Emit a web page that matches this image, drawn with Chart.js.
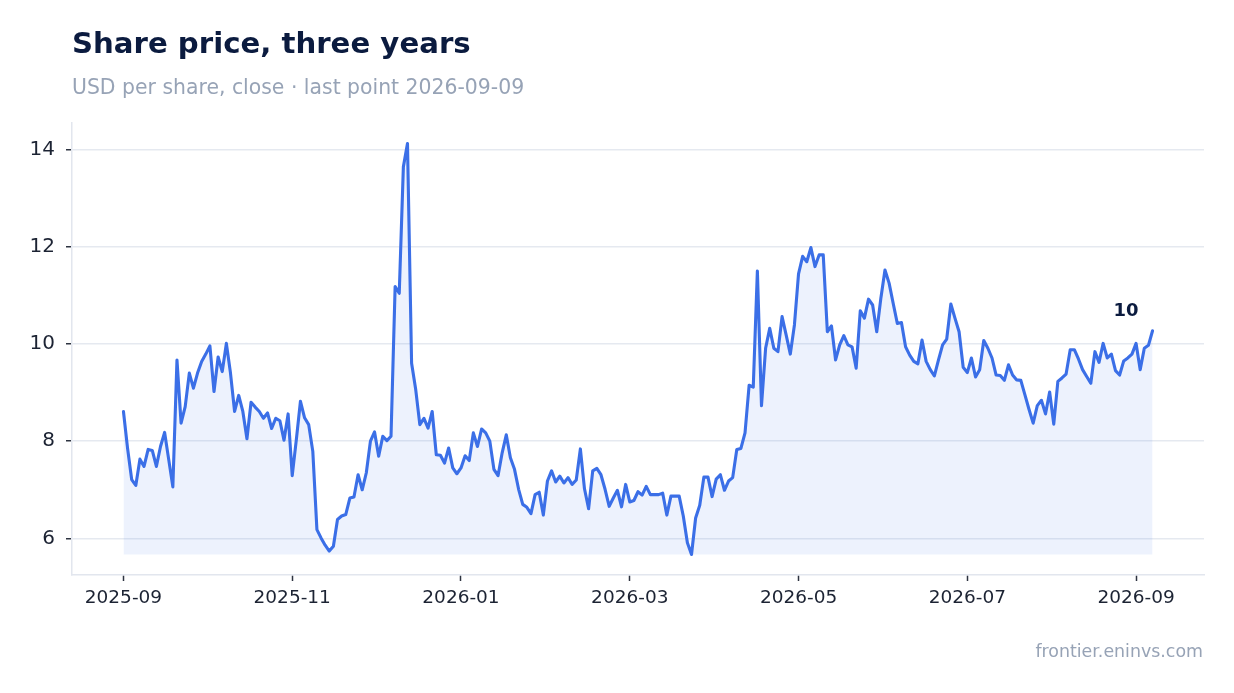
<!DOCTYPE html>
<html>
<head>
<meta charset="utf-8">
<script src="https://cdn.jsdelivr.net/npm/chart.js@4.4.1/dist/chart.umd.min.js"></script>
<style>
  html, body { margin: 0; padding: 0; background: #ffffff; }
  #wrap { position: relative; width: 1234px; height: 693px; overflow: hidden; font-family: "DejaVu Sans", sans-serif; }
  #chart { position: absolute; left: 0; top: 0; }
  .title { position: absolute; left: 72px; top: 29px; font-size: 29.2px; line-height: 1; font-weight: bold; color: #0b1b3f; white-space: nowrap; }
  .subtitle { position: absolute; left: 72px; top: 77px; font-size: 20.4px; line-height: 1; color: #97a3b6; white-space: nowrap; }
  .footer { position: absolute; right: 31px; top: 643px; font-size: 17.4px; line-height: 1; color: #97a3b6; white-space: nowrap; }
</style>
</head>
<body>
<div id="wrap">
  <canvas id="chart" width="1234" height="693"></canvas>
  <div class="title">Share price, three years</div>
  <div class="subtitle">USD per share, close · last point 2026-09-09</div>
  <div class="footer">frontier.eninvs.com</div>
</div>
<script>
// ---- data (daily closes) ----
const tickLabels = ['2025-09', '2025-11', '2026-01', '2026-03', '2026-05', '2026-07', '2026-09'];
const sessionsPerTick = 41; // trading sessions between two labelled months

const closeSep25 = [8.61, 7.85, 7.21, 7.09, 7.63, 7.48, 7.83, 7.81, 7.48, 7.89, 8.18, 7.62, 7.06, 9.67, 8.37, 8.71, 9.40, 9.09, 9.40, 9.64, 9.79, 9.96, 9.02, 9.73, 9.43, 10.01, 9.40, 8.61, 8.94, 8.61, 8.05, 8.80, 8.70, 8.61, 8.47, 8.58, 8.26, 8.47, 8.42, 8.02, 8.56];
const closeNov25 = [7.29, 8.03, 8.82, 8.48, 8.34, 7.79, 6.18, 6.01, 5.86, 5.74, 5.84, 6.39, 6.46, 6.49, 6.83, 6.85, 7.31, 7.00, 7.35, 8.00, 8.19, 7.69, 8.10, 8.01, 8.10, 11.18, 11.04, 13.64, 14.12, 9.60, 9.06, 8.34, 8.47, 8.27, 8.61, 7.72, 7.71, 7.55, 7.86, 7.45, 7.33];
const closeJan26 = [7.45, 7.70, 7.60, 8.17, 7.89, 8.25, 8.17, 8.00, 7.42, 7.29, 7.76, 8.13, 7.66, 7.42, 7.01, 6.70, 6.64, 6.51, 6.90, 6.95, 6.48, 7.18, 7.39, 7.16, 7.28, 7.14, 7.25, 7.11, 7.20, 7.84, 7.02, 6.61, 7.39, 7.44, 7.31, 7.01, 6.66, 6.83, 6.99, 6.65, 7.11];
const closeMar26 = [6.75, 6.78, 6.96, 6.89, 7.07, 6.90, 6.90, 6.90, 6.93, 6.48, 6.87, 6.87, 6.87, 6.46, 5.91, 5.67, 6.42, 6.68, 7.26, 7.26, 6.86, 7.22, 7.31, 6.99, 7.18, 7.25, 7.83, 7.85, 8.17, 9.15, 9.11, 11.50, 8.73, 9.91, 10.32, 9.91, 9.84, 10.56, 10.18, 9.79, 10.39];
const closeMay26 = [11.44, 11.80, 11.69, 11.98, 11.59, 11.83, 11.83, 10.25, 10.37, 9.67, 9.98, 10.17, 9.98, 9.94, 9.50, 10.68, 10.53, 10.92, 10.80, 10.25, 10.94, 11.52, 11.25, 10.83, 10.42, 10.44, 9.94, 9.77, 9.64, 9.59, 10.08, 9.64, 9.47, 9.34, 9.67, 9.98, 10.10, 10.82, 10.53, 10.25, 9.52];
const closeJul26 = [9.41, 9.71, 9.32, 9.47, 10.07, 9.91, 9.71, 9.36, 9.35, 9.25, 9.57, 9.36, 9.26, 9.25, 8.95, 8.65, 8.37, 8.73, 8.84, 8.56, 9.01, 8.35, 9.23, 9.30, 9.38, 9.88, 9.88, 9.69, 9.47, 9.33, 9.19, 9.84, 9.62, 10.01, 9.71, 9.79, 9.45, 9.36, 9.65, 9.71, 9.79];
const closeSep26 = [10.01, 9.47, 9.91, 9.97, 10.27];

const closes = [].concat(closeSep25, closeNov25, closeJan26, closeMar26, closeMay26, closeJul26, closeSep26);

// ---- derived ----
const points = closes.map((v, i) => ({ x: i, y: v }));
const lo = Math.min(...closes), hi = Math.max(...closes);
const yPad = (hi - lo) * 0.05;
const xPad = (closes.length - 1) * 0.05;

const LINE = '#3b6fe7';
const FONT = 'DejaVu Sans';

const lastLabel = {
  id: 'lastLabel',
  afterDatasetsDraw(chart) {
    const meta = chart.getDatasetMeta(0);
    const el = meta.data[meta.data.length - 1];
    const ctx = chart.ctx;
    ctx.save();
    ctx.font = 'bold 18px "' + FONT + '"';
    ctx.fillStyle = '#0b1b3f';
    ctx.textAlign = 'right';
    ctx.textBaseline = 'alphabetic';
    ctx.fillText(Math.round(closes[closes.length - 1]).toString(), el.x - 14, el.y - 15);
    ctx.restore();
  }
};

new Chart(document.getElementById('chart'), {
  type: 'line',
  data: {
    datasets: [{
      data: points,
      borderColor: LINE,
      borderWidth: 3.1,
      borderJoinStyle: 'round',
      borderCapStyle: 'round',
      pointRadius: 0,
      pointHoverRadius: 0,
      tension: 0,
      fill: { value: lo },
      backgroundColor: 'rgba(59,111,231,0.09)'
    }]
  },
  options: {
    responsive: false,
    animation: false,
    devicePixelRatio: 1,
    layout: { padding: { left: 0, right: 30, top: 123, bottom: 0 } },
    plugins: { legend: { display: false }, tooltip: { enabled: false }, title: { display: false } },
    scales: {
      x: {
        type: 'linear',
        min: -xPad,
        max: closes.length - 1 + xPad,
        afterFit(s) { s.height = 118; },
        afterBuildTicks(s) { s.ticks = tickLabels.map((_, k) => ({ value: k * sessionsPerTick })); },
        grid: { drawOnChartArea: false, drawTicks: true, tickLength: 6, tickColor: '#2d3340', tickWidth: 1.5 },
        border: { display: true, color: '#e2e6ee', width: 1.5 },
        ticks: {
          autoSkip: false,
          maxRotation: 0,
          padding: 6,
          color: '#1c2333',
          font: { family: FONT, size: 18.5 },
          callback: (v) => tickLabels[Math.round(v / sessionsPerTick)]
        }
      },
      y: {
        min: lo - yPad,
        max: hi + yPad,
        afterFit(s) { s.width = 72; },
        grid: { color: '#e5e9f0', lineWidth: 1.5, drawTicks: true, tickLength: 6, tickColor: '#2d3340', tickWidth: 1.5 },
        border: { display: true, color: '#e2e6ee', width: 1.5 },
        ticks: {
          stepSize: 2,
          includeBounds: false,
          padding: 11,
          color: '#1c2333',
          font: { family: FONT, size: 20 },
          callback: (v) => v.toString()
        }
      }
    }
  },
  plugins: [lastLabel]
});
</script>
</body>
</html>
